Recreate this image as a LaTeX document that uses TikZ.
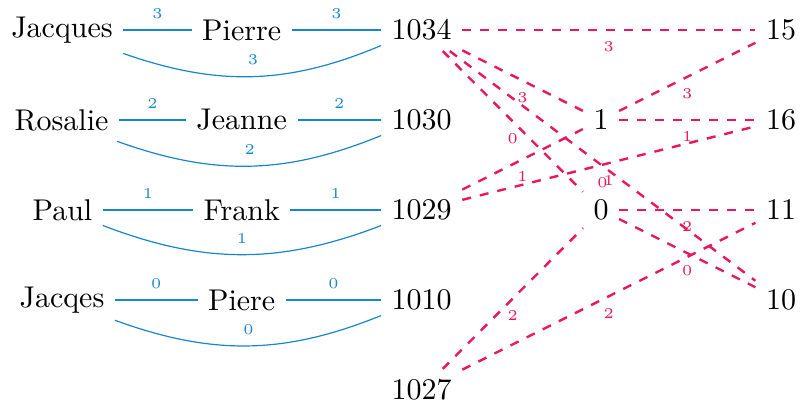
\documentclass[tikz,border=0pt]{standalone}
\definecolor{eblue}{RGB}{24,134,204}
\definecolor{epink}{RGB}{234,22,94}
\begin{document}
\begin{tikzpicture}[x=0.33333pt,y=-0.33333pt,
  bl/.style={draw=eblue},
  pk/.style={draw=epink, thick, dashed},
  bll/.style={font=\tiny, text=eblue, inner sep=3.6pt, above},
  pkl/.style={font=\tiny, text=epink, inner sep=3.6pt, below}]
\useasboundingbox (0,0) rectangle (806,405);
% left column
\node (jacques) at (62,30) {Jacques};
\node (rosalie) at (61.5,120) {Rosalie};
\node (paul) at (62.5,210) {Paul};
\node (jacqes) at (62,300) {Jacqes};
% middle names
\node (pierre) at (241.7,30) {Pierre};
\node (jeanne) at (241.7,120) {Jeanne};
\node (frank) at (241.7,210) {Frank};
\node (piere) at (241.7,300) {Piere};
% numbers
\node (n1034) at (421.7,30) {1034};
\node (n1030) at (421.7,120) {1030};
\node (n1029) at (421.7,210) {1029};
\node (n1010) at (421.7,300) {1010};
\node (n1027) at (421.7,390) {1027};
\node (n1) at (601,120) {1};
\node (n0) at (601,210) {0};
\node (n15) at (781,30) {15};
\node (n16) at (781,120) {16};
\node (n11) at (781,210) {11};
\node (n10) at (781,300) {10};
% blue connectors
\draw[bl] (jacques) -- node[bll]{3} (pierre);
\draw[bl] (pierre) -- node[bll]{3} (n1034);
\draw[bl] (jacques) to[bend right=21] node[bll]{3} (n1034);
\draw[bl] (rosalie) -- node[bll]{2} (jeanne);
\draw[bl] (jeanne) -- node[bll]{2} (n1030);
\draw[bl] (rosalie) to[bend right=21] node[bll]{2} (n1030);
\draw[bl] (paul) -- node[bll]{1} (frank);
\draw[bl] (frank) -- node[bll]{1} (n1029);
\draw[bl] (paul) to[bend right=21] node[bll]{1} (n1029);
\draw[bl] (jacqes) -- node[bll]{0} (piere);
\draw[bl] (piere) -- node[bll]{0} (n1010);
\draw[bl] (jacqes) to[bend right=21] node[bll]{0} (n1010);
% pink connectors
\draw[pk] (n1034) -- node[pkl]{3} (n15);
\draw[pk] (n1034) -- node[pkl]{3} (n1);
\draw[pk] (n1034) -- node[pkl]{0} (n0);
\draw[pk] (n1034) -- node[pkl]{0} (n10);
\draw[pk] (n1029) -- node[pkl]{1} (n1);
\draw[pk] (n1029) -- node[pkl]{1} (n16);
\draw[pk] (n1) -- node[pkl]{3} (n15);
\draw[pk] (n1) -- node[pkl]{1} (n16);
\draw[pk] (n0) -- node[pkl]{2} (n11);
\draw[pk] (n0) -- node[pkl]{0} (n10);
\draw[pk] (n1027) -- node[pkl]{2} (n0);
\draw[pk] (n1027) -- node[pkl]{2} (n11);
\end{tikzpicture}
\end{document}
